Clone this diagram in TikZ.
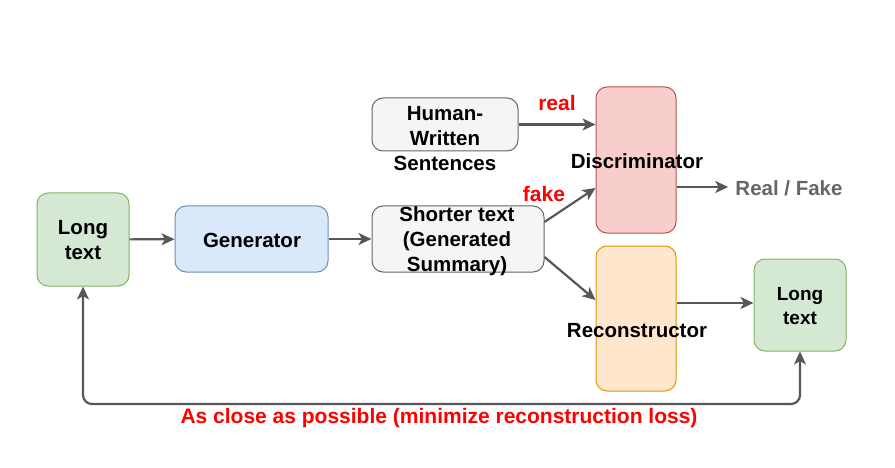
\documentclass[tikz,border=0pt]{standalone}
\usepackage{fontspec}
\setmainfont{Liberation Sans}
\usetikzlibrary{arrows.meta}
\definecolor{gF}{HTML}{D5E8D4}\definecolor{gD}{HTML}{82B366}
\definecolor{bF}{HTML}{DAE8FC}\definecolor{bD}{HTML}{6C8EBF}
\definecolor{yF}{HTML}{F5F5F5}\definecolor{yD}{HTML}{666666}
\definecolor{rF}{HTML}{F8CECC}\definecolor{rD}{HTML}{B85450}
\definecolor{oF}{HTML}{FFE6CC}\definecolor{oD}{HTML}{D79B00}
\definecolor{edge}{HTML}{575757}
\definecolor{redtxt}{HTML}{FF0000}
\definecolor{rftxt}{HTML}{666666}
\tikzset{
  box/.style={draw, rounded corners=11pt, line width=1pt, inner sep=0pt},
  txt/.style={font=\fontsize{20.5}{25}\selectfont\bfseries, align=center, inner sep=0pt, text=black},
  smalltxt/.style={font=\fontsize{19}{24}\selectfont\bfseries, align=center, inner sep=0pt, text=black},
  lbl/.style={font=\fontsize{21}{24}\selectfont\bfseries, inner sep=0pt, text=redtxt},
  tip/.tip={Stealth[length=13pt,width=12pt,inset=3.5pt]},
  arr/.style={draw=edge, line width=2.2pt, -tip},
}
\begin{document}
\begin{tikzpicture}[x=1pt,y=-1pt]
\useasboundingbox (0,0) rectangle (895,468);
% boxes
\node[box, fill=gF, draw=gD, minimum width=92pt, minimum height=93pt] (lt1) at (83,239.5) {};
\node[box, fill=bF, draw=bD, minimum width=153pt, minimum height=66pt] (gen) at (251.5,239) {};
\node[box, fill=yF, draw=yD, minimum width=172pt, minimum height=66pt] (sh) at (458,239) {};
\node[box, fill=yF, draw=yD, minimum width=146pt, minimum height=53pt] (hum) at (445,124.5) {};
\node[box, fill=rF, draw=rD, minimum width=80pt, minimum height=146pt] (disc) at (636,160) {};
\node[box, fill=oF, draw=oD, minimum width=80pt, minimum height=145pt] (rec) at (636,318.5) {};
\node[box, fill=gF, draw=gD, minimum width=92pt, minimum height=92pt] (lt2) at (800,305) {};
% texts
\node[txt] (lt1t) at (83,240) {Long\\text};
\node[txt] (gent) at (252,240) {Generator};
\node[txt] (sht) at (457,241.5) {Shorter text\\(Generated\\Summary)};
\node[txt] (humt) at (445,138.5) {Human-\\Written\\Sentences};
\node[txt] (disct) at (637,161) {Discriminator};
\node[txt] (rect) at (637,331) {Reconstructor};
\node[smalltxt] (lt2t) at (800,306) {Long\\text};
\node[txt, text=rftxt] (rf) at (789,188) {Real / Fake};
\node[lbl] (real) at (557,103) {real};
\node[lbl] (fake) at (544,194) {fake};
\node[lbl] (loss) at (439,418) {As close as possible (minimize reconstruction loss)};
\coordinate (loop) at (440,404);
\coordinate (rfend) at ([xshift=-7pt]rf.west);
% connectors
\draw[arr] (lt1) -- (gen);
\draw[arr] (gen) -- (sh);
\draw[arr] (hum) -- (hum -| disc.west);
\draw[arr] ([yshift=17pt]sh.east) -- ([yshift=-28pt]disc.west);
\draw[arr] ([yshift=-18pt]sh.east) -- ([yshift=18.5pt]rec.west);
\draw[arr] ([yshift=-27pt]disc.east) -- ([yshift=-27pt]disc.east -| rfend);
\draw[arr] ([yshift=15.5pt]rec.east) -- ([yshift=15.5pt]rec.east -| lt2.west);
\draw[arr, tip-tip, rounded corners=9pt] (lt1.south) |- (loop) -| (lt2.south);
\end{tikzpicture}
\end{document}
